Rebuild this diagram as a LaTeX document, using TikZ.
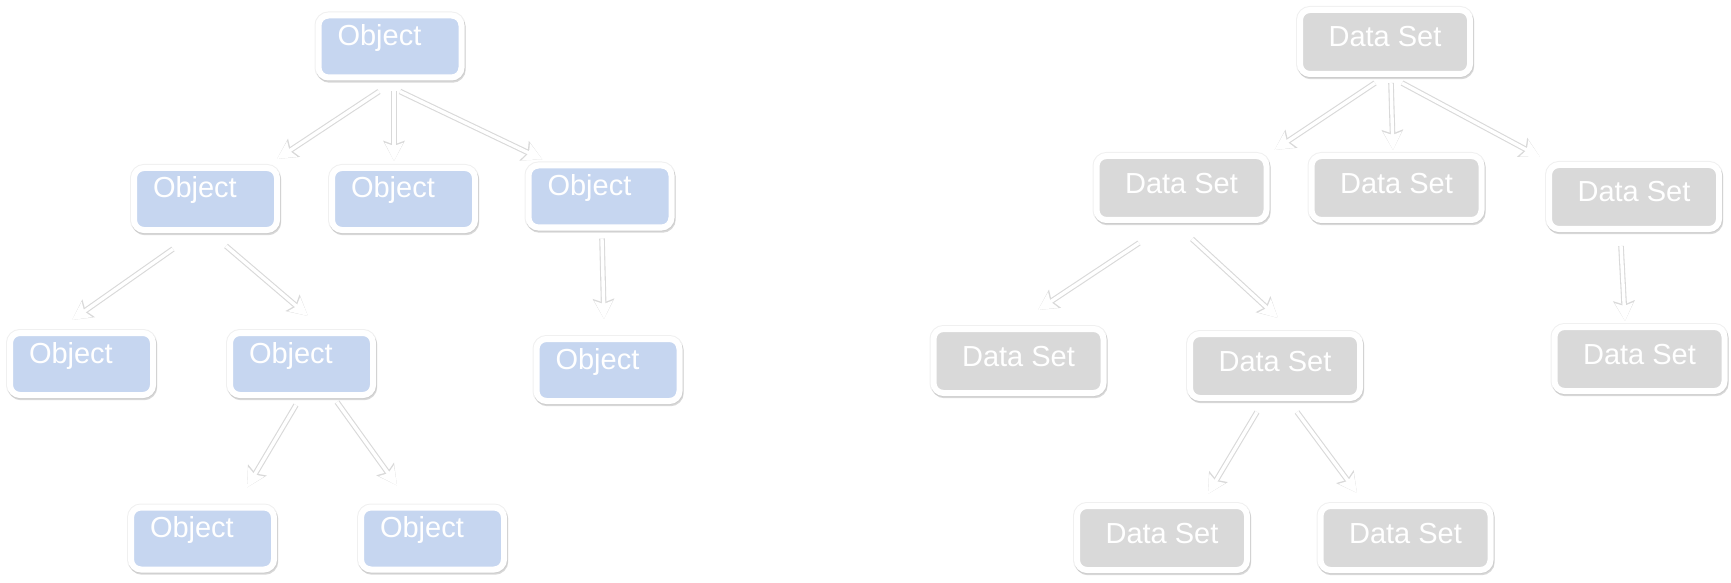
\documentclass[tikz,border=0pt]{standalone}
\usepackage{fontspec}
\setmainfont{Liberation Sans}
\usetikzlibrary{arrows.meta,shadows}

\definecolor{objblue}{RGB}{198,214,240}
\definecolor{setgray}{RGB}{217,217,217}

\begin{document}
\begin{tikzpicture}[x=0.5pt, y=-0.5pt,
					box/.style={rectangle, rounded corners=5pt, draw=white, line width=3pt, text=white, inner sep=0pt,
						font=\fontsize{14.5}{17}\selectfont,
						preaction={draw=black!6, line width=4pt},
						drop shadow={shadow xshift=0.5pt, shadow yshift=-1pt, opacity=0.25, fill=black!60, draw=black!60, line width=3.2pt}},
					objbox/.style={box, fill=objblue, minimum width=71.5pt, minimum height=31pt, text width=52.5pt, align=left, text height=15pt, text depth=16pt},
					setbox/.style={box, fill=setgray, minimum width=85pt, minimum height=32pt, align=center, text height=18.5pt, text depth=13.5pt},
					link/.style={white, line width=1.7pt, -{Stealth[length=9pt, width=9pt, inset=1.5pt]},
						preaction={draw=black!15, line width=2.8pt, -{Stealth[length=10pt, width=10.5pt, inset=1.8pt]}}}]
					\useasboundingbox (0,0) rectangle (1731,583);
					
					% objects
					\node[objbox] (obj1) at (390,46.5) {Object};
					\node[objbox] (obj2) at (205.5,199) {Object};
					\node[objbox] (obj3) at (403.5,199) {Object};
					\node[objbox] (obj4) at (600,196.5) {Object};
					\node[objbox] (obj5) at (81.5,364) {Object};
					\node[objbox] (obj6) at (301.5,364) {Object};
					\node[objbox] (obj7) at (608,370) {Object};
					\node[objbox] (obj8) at (202.5,538.5) {Object};
					\node[objbox] (obj9) at (432.5,538.5) {Object};
					
					\draw[link] ([shift={(-11,11)}]obj1.south) -- ([shift={(-3,-6)}]obj2.north east);
					\draw[link] ([shift={(4,11)}]obj1.south) -- ([shift={(-9.5,-4)}]obj3.north);
					\draw[link] ([shift={(10,11)}]obj1.south) -- ([shift={(17,-3)}]obj4.north west);
					\draw[link] ([shift={(-32.5,16)}]obj2.south) -- ([shift={(-9.5,-10)}]obj5.north);
					\draw[link] ([shift={(20.5,13)}]obj2.south) -- ([shift={(6.5,-14)}]obj6.north);
					\draw[link] ([shift={(2,8)}]obj4.south) -- ([shift={(-4,-17)}]obj7.north);
					\draw[link] ([shift={(-5.5,7)}]obj6.south) -- ([shift={(44.5,-17)}]obj8.north);
					\draw[link] ([shift={(35.5,4)}]obj6.south) -- ([shift={(-35.5,-19)}]obj9.north);
					
					% data sets
					\node[setbox] (set1) at (1385,42) {Data Set};
					\node[setbox] (set2) at (1181.5,188) {Data Set};
					\node[setbox] (set3) at (1396.5,188) {Data Set};
					\node[setbox] (set4) at (1634,197) {Data Set};
					\node[setbox] (set5) at (1018.5,361) {Data Set};
					\node[setbox] (set6) at (1275,366) {Data Set};
					\node[setbox] (set7) at (1639.5,359) {Data Set};
					\node[setbox] (set8) at (1162,538) {Data Set};
					\node[setbox] (set9) at (1405.5,538) {Data Set};
					
					\draw[link] ([shift={(-10,6)}]set1.south) -- ([shift={(5,-3)}]set2.north east);
					\draw[link] ([shift={(6,6)}]set1.south) -- ([shift={(-3.5,-3)}]set3.north);
					\draw[link] ([shift={(17,6)}]set1.south) -- ([shift={(-6,-5)}]set4.north west);
					\draw[link] ([shift={(-42.5,20)}]set2.south) -- ([shift={(19.5,-16)}]set5.north);
					\draw[link] ([shift={(10.5,16)}]set2.south) -- ([shift={(3,-13)}]set6.north);
					\draw[link] ([shift={(-13,14)}]set4.south) -- ([shift={(-14.5,-3)}]set7.north);
					\draw[link] ([shift={(-18,11)}]set6.south) -- ([shift={(46,-9)}]set8.north);
					\draw[link] ([shift={(22,11)}]set6.south) -- ([shift={(-48.5,-10)}]set9.north);
				\end{tikzpicture}
\end{document}
